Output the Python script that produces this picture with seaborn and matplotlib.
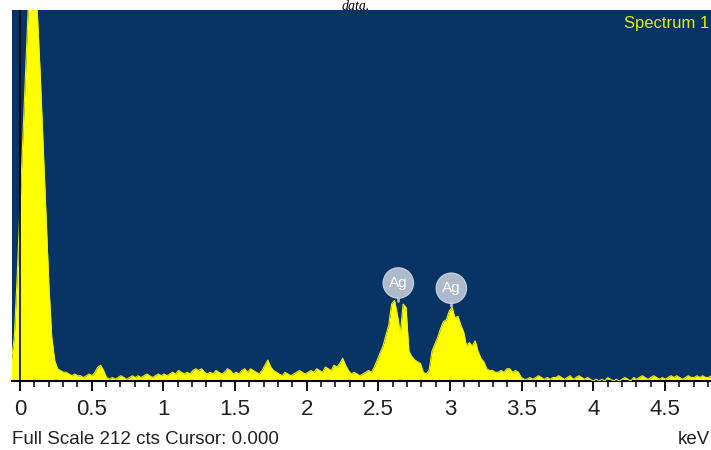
import numpy as np
import matplotlib
matplotlib.use("Agg")
import matplotlib.pyplot as plt
import seaborn as sns

# EDS spectrum, counts per channel
channel_start = -0.06   # keV
channel_width = 0.0201  # keV
counts = [
    12, 25, 60, 100, 140, 180, 220, 240, 235, 210,
    175, 135, 95, 55, 25, 12, 7, 6, 5, 5,
    4, 3, 4, 3, 3, 2, 3, 4, 3, 5,
    8, 9, 6, 2, 1, 2, 1, 2, 3, 2,
    1, 2, 3, 2, 3, 2, 3, 4, 3, 2,
    3, 4, 3, 4, 3, 4, 5, 4, 6, 5,
    4, 5, 4, 6, 7, 6, 7, 5, 4, 5,
    4, 6, 5, 4, 5, 7, 6, 4, 5, 4,
    6, 7, 5, 7, 6, 5, 4, 6, 9, 12,
    8, 6, 5, 4, 3, 5, 4, 3, 4, 5,
    6, 5, 4, 5, 6, 5, 7, 6, 5, 8,
    7, 6, 9, 8, 10, 13, 9, 6, 4, 5,
    4, 3, 4, 5, 6, 5, 8, 12, 16, 20,
    26, 32, 44, 46, 38, 27, 44, 42, 17, 14,
    12, 11, 10, 5, 4, 6, 17, 21, 25, 30,
    34, 35, 40, 42, 36, 37, 32, 28, 20, 22,
    20, 23, 17, 13, 11, 7, 6, 6, 5, 5,
    6, 5, 7, 7, 5, 6, 5, 2, 1, 1,
    2, 1, 2, 3, 2, 1, 2, 1, 2, 2,
    3, 2, 1, 2, 3, 1, 2, 3, 2, 1,
    2, 1, 0, 1, 0, 1, 0, 2, 1, 0,
    1, 0, 1, 2, 1, 0, 2, 1, 2, 3,
    2, 1, 2, 3, 2, 1, 2, 1, 2, 3,
    2, 3, 2, 1, 2, 3, 2, 2, 3, 2,
    3, 2, 2, 3,
]
energy = channel_start + channel_width * np.arange(len(counts))

full_scale = 212
peak_labels = ["Ag", "Ag"]
peak_label_x = [2.64, 3.01]
peak_label_y = [56, 53]
tick_values = [0, 0.5, 1, 1.5, 2, 2.5, 3, 3.5, 4, 4.5]
tick_text = ["0", "0.5", "1", "1.5", "2", "2.5", "3", "3.5", "4", "4.5"]

sns.set_style("white")
narrow = ["Liberation Sans Narrow", "Liberation Sans", "DejaVu Sans"]
plt.rcParams["font.family"] = narrow

fig = plt.figure(figsize=(7.11, 4.5), dpi=100)
ax = fig.add_axes([12 / 711, 1 - 381 / 450, 1 - 12 / 711, 371 / 450])
ax.set_facecolor("#073464")

ax.fill_between(energy, counts, 0, color="#FFFF00", linewidth=0, zorder=2)
sns.lineplot(x=energy, y=counts, color="#F2F200", linewidth=0.8, ax=ax, zorder=3)
ax.axvline(0, color="black", linewidth=1.2, zorder=4)

for lab, lx, ly in zip(peak_labels, peak_label_x, peak_label_y):
    ax.plot([lx, lx], [ly - 10, ly - 4], color="#AEB9CC", linewidth=2, zorder=5)
    ax.text(lx, ly, lab, color="white", fontsize=11, ha="center", va="center",
            zorder=6,
            bbox=dict(boxstyle="circle,pad=0.38", facecolor="#AEB9CC",
                      edgecolor="#C4CCDA", linewidth=1))

ax.text(0.997, 0.985, "Spectrum 1", transform=ax.transAxes, color="#E2EE00",
        fontsize=12, ha="right", va="top")

ax.set_xlim(-0.056, 4.822)
ax.set_ylim(0, full_scale)
ax.set_xticks(tick_values)
ax.set_xticklabels(tick_text, fontsize=16, color="#222222")
ax.set_xticks(np.arange(0, 4.85, 0.1), minor=True)
ax.tick_params(axis="x", which="major", direction="out", length=7, width=1.3,
               color="black", pad=6, bottom=True)
ax.tick_params(axis="x", which="minor", direction="out", length=4, width=1.1,
               color="black", bottom=True)
ax.set_yticks([])
ax.set_xlabel("")
ax.set_ylabel("")

for side in ["top", "right", "left"]:
    ax.spines[side].set_visible(False)
ax.spines["bottom"].set_color("black")
ax.spines["bottom"].set_linewidth(1.5)

fig.text(12 / 711, 1 - 440 / 450, "Full Scale 212 cts Cursor: 0.000",
         fontsize=13.5, color="#222222", ha="left", va="center")
fig.text(710 / 711, 1 - 440 / 450, "keV", fontsize=13.5, color="#222222",
         ha="right", va="center")
fig.text(0.5, 0.999, "data.", fontsize=10, style="italic",
         family=["Liberation Serif", "DejaVu Serif"], color="black",
         ha="center", va="top")

fig.savefig("out.png", dpi=100)
